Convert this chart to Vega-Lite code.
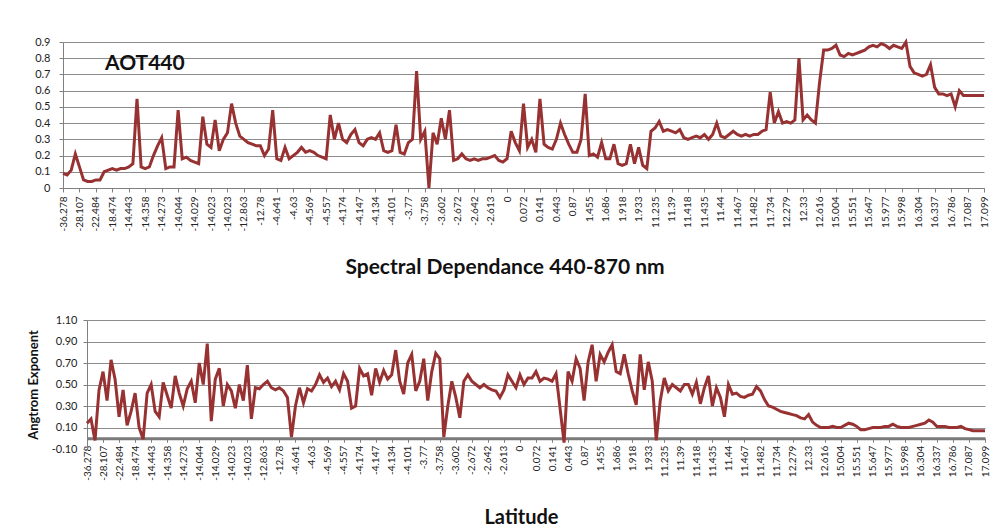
{
  "$schema": "https://vega.github.io/schema/vega-lite/v6.json",
  "padding": {"left": 27, "top": 36, "right": 8, "bottom": 2},
  "autosize": {"type": "pad"},
  "background": "white",
  "config": {
    "font": "Lato",
    "view": {"stroke": null},
    "concat": {"spacing": 19},
    "axis": {
      "labelFont": "Lato",
      "labelFontSize": 10,
      "labelColor": "#222222",
      "labelOverlap": false,
      "labelFlush": false,
      "domainColor": "#808080",
      "tickColor": "#808080",
      "gridColor": "#8c8c8c",
      "gridWidth": 1,
      "tickSize": 4,
      "titleFont": "Lato",
      "titleColor": "#111111"
    }
  },
  "data": {"values": [
    {"i":0,"aot":0.09,"alpha":0.14},{"i":1,"aot":0.08,"alpha":0.18},{"i":2,"aot":0.11,"alpha":-0.02},{"i":3,"aot":0.21,"alpha":0.45},{"i":4,"aot":0.13,"alpha":0.62},
    {"i":5,"aot":0.05,"alpha":0.35},{"i":6,"aot":0.04,"alpha":0.73},{"i":7,"aot":0.04,"alpha":0.55},{"i":8,"aot":0.05,"alpha":0.2},{"i":9,"aot":0.05,"alpha":0.45},
    {"i":10,"aot":0.1,"alpha":0.12},{"i":11,"aot":0.11,"alpha":0.25},{"i":12,"aot":0.12,"alpha":0.42},{"i":13,"aot":0.11,"alpha":0.1},{"i":14,"aot":0.12,"alpha":-0.01},
    {"i":15,"aot":0.12,"alpha":0.42},{"i":16,"aot":0.13,"alpha":0.5},{"i":17,"aot":0.15,"alpha":0.25},{"i":18,"aot":0.55,"alpha":0.2},{"i":19,"aot":0.13,"alpha":0.52},
    {"i":20,"aot":0.12,"alpha":0.4},{"i":21,"aot":0.13,"alpha":0.28},{"i":22,"aot":0.2,"alpha":0.58},{"i":23,"aot":0.26,"alpha":0.42},{"i":24,"aot":0.31,"alpha":0.3},
    {"i":25,"aot":0.12,"alpha":0.46},{"i":26,"aot":0.13,"alpha":0.53},{"i":27,"aot":0.13,"alpha":0.33},{"i":28,"aot":0.48,"alpha":0.7},{"i":29,"aot":0.18,"alpha":0.5},
    {"i":30,"aot":0.19,"alpha":0.88},{"i":31,"aot":0.17,"alpha":0.16},{"i":32,"aot":0.16,"alpha":0.55},{"i":33,"aot":0.15,"alpha":0.65},{"i":34,"aot":0.44,"alpha":0.3},
    {"i":35,"aot":0.27,"alpha":0.5},{"i":36,"aot":0.25,"alpha":0.44},{"i":37,"aot":0.42,"alpha":0.28},{"i":38,"aot":0.23,"alpha":0.5},{"i":39,"aot":0.3,"alpha":0.35},
    {"i":40,"aot":0.34,"alpha":0.68},{"i":41,"aot":0.52,"alpha":0.18},{"i":42,"aot":0.4,"alpha":0.47},{"i":43,"aot":0.32,"alpha":0.46},{"i":44,"aot":0.3,"alpha":0.5},
    {"i":45,"aot":0.28,"alpha":0.53},{"i":46,"aot":0.27,"alpha":0.47},{"i":47,"aot":0.26,"alpha":0.45},{"i":48,"aot":0.26,"alpha":0.47},{"i":49,"aot":0.2,"alpha":0.44},
    {"i":50,"aot":0.24,"alpha":0.38},{"i":51,"aot":0.48,"alpha":0.01},{"i":52,"aot":0.18,"alpha":0.3},{"i":53,"aot":0.17,"alpha":0.47},{"i":54,"aot":0.25,"alpha":0.33},
    {"i":55,"aot":0.18,"alpha":0.46},{"i":56,"aot":0.2,"alpha":0.44},{"i":57,"aot":0.22,"alpha":0.5},{"i":58,"aot":0.25,"alpha":0.59},{"i":59,"aot":0.22,"alpha":0.52},
    {"i":60,"aot":0.23,"alpha":0.56},{"i":61,"aot":0.22,"alpha":0.48},{"i":62,"aot":0.2,"alpha":0.53},{"i":63,"aot":0.19,"alpha":0.45},{"i":64,"aot":0.18,"alpha":0.6},
    {"i":65,"aot":0.45,"alpha":0.53},{"i":66,"aot":0.3,"alpha":0.28},{"i":67,"aot":0.4,"alpha":0.3},{"i":68,"aot":0.3,"alpha":0.65},{"i":69,"aot":0.28,"alpha":0.58},
    {"i":70,"aot":0.33,"alpha":0.6},{"i":71,"aot":0.36,"alpha":0.4},{"i":72,"aot":0.28,"alpha":0.65},{"i":73,"aot":0.26,"alpha":0.52},{"i":74,"aot":0.3,"alpha":0.63},
    {"i":75,"aot":0.31,"alpha":0.55},{"i":76,"aot":0.3,"alpha":0.59},{"i":77,"aot":0.34,"alpha":0.82},{"i":78,"aot":0.23,"alpha":0.53},{"i":79,"aot":0.22,"alpha":0.41},
    {"i":80,"aot":0.23,"alpha":0.7},{"i":81,"aot":0.39,"alpha":0.78},{"i":82,"aot":0.22,"alpha":0.44},{"i":83,"aot":0.21,"alpha":0.53},{"i":84,"aot":0.28,"alpha":0.74},
    {"i":85,"aot":0.3,"alpha":0.35},{"i":86,"aot":0.72,"alpha":0.62},{"i":87,"aot":0.3,"alpha":0.79},{"i":88,"aot":0.35,"alpha":0.74},{"i":89,"aot":0.0,"alpha":0.01},
    {"i":90,"aot":0.34,"alpha":0.3},{"i":91,"aot":0.27,"alpha":0.53},{"i":92,"aot":0.43,"alpha":0.38},{"i":93,"aot":0.3,"alpha":0.19},{"i":94,"aot":0.48,"alpha":0.53},
    {"i":95,"aot":0.17,"alpha":0.59},{"i":96,"aot":0.18,"alpha":0.53},{"i":97,"aot":0.21,"alpha":0.5},{"i":98,"aot":0.18,"alpha":0.47},{"i":99,"aot":0.17,"alpha":0.5},
    {"i":100,"aot":0.18,"alpha":0.47},{"i":101,"aot":0.17,"alpha":0.45},{"i":102,"aot":0.18,"alpha":0.44},{"i":103,"aot":0.18,"alpha":0.38},{"i":104,"aot":0.19,"alpha":0.45},
    {"i":105,"aot":0.2,"alpha":0.59},{"i":106,"aot":0.17,"alpha":0.53},{"i":107,"aot":0.16,"alpha":0.47},{"i":108,"aot":0.18,"alpha":0.59},{"i":109,"aot":0.35,"alpha":0.5},
    {"i":110,"aot":0.28,"alpha":0.56},{"i":111,"aot":0.23,"alpha":0.56},{"i":112,"aot":0.52,"alpha":0.62},{"i":113,"aot":0.25,"alpha":0.53},{"i":114,"aot":0.3,"alpha":0.56},
    {"i":115,"aot":0.22,"alpha":0.55},{"i":116,"aot":0.55,"alpha":0.53},{"i":117,"aot":0.27,"alpha":0.6},{"i":118,"aot":0.25,"alpha":0.28},{"i":119,"aot":0.24,"alpha":-0.04},
    {"i":120,"aot":0.3,"alpha":0.62},{"i":121,"aot":0.4,"alpha":0.53},{"i":122,"aot":0.33,"alpha":0.74},{"i":123,"aot":0.27,"alpha":0.65},{"i":124,"aot":0.22,"alpha":0.35},
    {"i":125,"aot":0.22,"alpha":0.71},{"i":126,"aot":0.3,"alpha":0.87},{"i":127,"aot":0.58,"alpha":0.53},{"i":128,"aot":0.2,"alpha":0.78},{"i":129,"aot":0.21,"alpha":0.71},
    {"i":130,"aot":0.19,"alpha":0.8},{"i":131,"aot":0.28,"alpha":0.87},{"i":132,"aot":0.18,"alpha":0.62},{"i":133,"aot":0.18,"alpha":0.6},{"i":134,"aot":0.27,"alpha":0.78},
    {"i":135,"aot":0.15,"alpha":0.6},{"i":136,"aot":0.14,"alpha":0.44},{"i":137,"aot":0.15,"alpha":0.31},{"i":138,"aot":0.27,"alpha":0.78},{"i":139,"aot":0.15,"alpha":0.45},
    {"i":140,"aot":0.25,"alpha":0.71},{"i":141,"aot":0.14,"alpha":0.53},{"i":142,"aot":0.12,"alpha":-0.02},{"i":143,"aot":0.35,"alpha":0.35},{"i":144,"aot":0.37,"alpha":0.56},
    {"i":145,"aot":0.41,"alpha":0.44},{"i":146,"aot":0.35,"alpha":0.5},{"i":147,"aot":0.36,"alpha":0.47},{"i":148,"aot":0.35,"alpha":0.44},{"i":149,"aot":0.34,"alpha":0.5},
    {"i":150,"aot":0.36,"alpha":0.5},{"i":151,"aot":0.31,"alpha":0.41},{"i":152,"aot":0.3,"alpha":0.52},{"i":153,"aot":0.31,"alpha":0.32},{"i":154,"aot":0.32,"alpha":0.47},
    {"i":155,"aot":0.31,"alpha":0.58},{"i":156,"aot":0.33,"alpha":0.3},{"i":157,"aot":0.3,"alpha":0.47},{"i":158,"aot":0.33,"alpha":0.38},{"i":159,"aot":0.4,"alpha":0.2},
    {"i":160,"aot":0.32,"alpha":0.5},{"i":161,"aot":0.31,"alpha":0.41},{"i":162,"aot":0.33,"alpha":0.42},{"i":163,"aot":0.35,"alpha":0.39},{"i":164,"aot":0.33,"alpha":0.38},
    {"i":165,"aot":0.32,"alpha":0.4},{"i":166,"aot":0.33,"alpha":0.41},{"i":167,"aot":0.32,"alpha":0.48},{"i":168,"aot":0.33,"alpha":0.44},{"i":169,"aot":0.33,"alpha":0.36},
    {"i":170,"aot":0.35,"alpha":0.3},{"i":171,"aot":0.36,"alpha":0.29},{"i":172,"aot":0.59,"alpha":0.27},{"i":173,"aot":0.4,"alpha":0.25},{"i":174,"aot":0.47,"alpha":0.24},
    {"i":175,"aot":0.4,"alpha":0.23},{"i":176,"aot":0.41,"alpha":0.22},{"i":177,"aot":0.4,"alpha":0.21},{"i":178,"aot":0.42,"alpha":0.19},{"i":179,"aot":0.8,"alpha":0.18},
    {"i":180,"aot":0.42,"alpha":0.22},{"i":181,"aot":0.45,"alpha":0.15},{"i":182,"aot":0.42,"alpha":0.12},{"i":183,"aot":0.4,"alpha":0.1},{"i":184,"aot":0.65,"alpha":0.1},
    {"i":185,"aot":0.85,"alpha":0.1},{"i":186,"aot":0.85,"alpha":0.11},{"i":187,"aot":0.86,"alpha":0.1},{"i":188,"aot":0.88,"alpha":0.1},{"i":189,"aot":0.82,"alpha":0.12},
    {"i":190,"aot":0.81,"alpha":0.14},{"i":191,"aot":0.83,"alpha":0.13},{"i":192,"aot":0.82,"alpha":0.11},{"i":193,"aot":0.83,"alpha":0.08},{"i":194,"aot":0.84,"alpha":0.08},
    {"i":195,"aot":0.85,"alpha":0.09},{"i":196,"aot":0.87,"alpha":0.1},{"i":197,"aot":0.88,"alpha":0.1},{"i":198,"aot":0.87,"alpha":0.1},{"i":199,"aot":0.89,"alpha":0.11},
    {"i":200,"aot":0.88,"alpha":0.11},{"i":201,"aot":0.86,"alpha":0.13},{"i":202,"aot":0.88,"alpha":0.11},{"i":203,"aot":0.87,"alpha":0.1},{"i":204,"aot":0.86,"alpha":0.1},
    {"i":205,"aot":0.9,"alpha":0.1},{"i":206,"aot":0.75,"alpha":0.11},{"i":207,"aot":0.71,"alpha":0.12},{"i":208,"aot":0.7,"alpha":0.13},{"i":209,"aot":0.69,"alpha":0.14},
    {"i":210,"aot":0.7,"alpha":0.17},{"i":211,"aot":0.76,"alpha":0.15},{"i":212,"aot":0.62,"alpha":0.11},{"i":213,"aot":0.58,"alpha":0.11},{"i":214,"aot":0.58,"alpha":0.11},
    {"i":215,"aot":0.57,"alpha":0.1},{"i":216,"aot":0.58,"alpha":0.1},{"i":217,"aot":0.5,"alpha":0.1},{"i":218,"aot":0.6,"alpha":0.11},{"i":219,"aot":0.57,"alpha":0.09},
    {"i":220,"aot":0.57,"alpha":0.08},{"i":221,"aot":0.57,"alpha":0.07},{"i":222,"aot":0.57,"alpha":0.07},{"i":223,"aot":0.57,"alpha":0.07},{"i":224,"aot":0.57,"alpha":0.07}
  ]},
  "columns": 1,
  "concat": [
    {
      "width": 897,
      "height": 146,
      "title": {"text": "AOT440", "anchor": "start", "frame": "group", "offset": -38, "dx": 18, "fontSize": 21, "fontWeight": "bold", "color": "#111111", "font": "Lato"},
      "mark": {"type": "line", "color": "#983232", "strokeWidth": 3},
      "encoding": {
        "x": {
          "field": "i", "type": "quantitative",
          "scale": {"domain": [0, 224], "range": [-24, 897], "nice": false, "zero": false},
          "axis": {
            "title": null, "grid": false, "labelAngle": -90, "labelPadding": 4,
            "minExtent": 50, "maxExtent": 50,
            "values": [0,4,8,12,16,20,24,28,32,36,40,44,48,52,56,60,64,68,72,76,80,84,88,92,96,100,104,108,112,116,120,124,128,132,136,140,144,148,152,156,160,164,168,172,176,180,184,188,192,196,200,204,208,212,216,220,224],
            "labelExpr": "['-36.278','-28.107','-22.484','-18.474','-14.443','-14.358','-14.273','-14.044','-14.029','-14.023','-14.023','-12.863','-12.78','-4.641','-4.63','-4.569','-4.557','-4.174','-4.147','-4.134','-4.101','-3.77','-3.758','-3.602','-2.672','-2.642','-2.613','0','0.072','0.141','0.443','0.87','1.455','1.686','1.918','1.933','11.235','11.39','11.418','11.435','11.44','11.467','11.482','11.734','12.279','12.33','12.616','15.004','15.551','15.647','15.977','15.998','16.304','16.337','16.786','17.087','17.099'][round(datum.value / 4)]"
          }
        },
        "y": {
          "field": "aot", "type": "quantitative",
          "scale": {"domain": [0, 0.9], "nice": false},
          "axis": {
            "title": null, "values": [0,0.1,0.2,0.3,0.4,0.5,0.6,0.7,0.8,0.9], "format": "~g",
            "offset": 24, "labelFontSize": 11, "labelPadding": 9, "minExtent": 36, "maxExtent": 36
          }
        }
      }
    },
    {
      "width": 898,
      "height": 129,
      "title": {"text": "Spectral Dependance 440-870 nm", "frame": "group", "offset": 36, "dx": -31, "fontSize": 21, "fontWeight": "bold", "color": "#111111", "font": "Lato"},
      "mark": {"type": "line", "color": "#983232", "strokeWidth": 3},
      "encoding": {
        "x": {
          "field": "i", "type": "quantitative",
          "scale": {"domain": [0, 224], "nice": false, "zero": false},
          "axis": {
            "title": "Latitude", "titleFontSize": 20, "titleFontWeight": "bold", "titlePadding": 24, "titleX": 434,
            "grid": false, "labelAngle": -90, "labelPadding": 3, "offset": -10.75,
            "domainWidth": 3, "domainColor": "#7a7a7a",
            "minExtent": 45, "maxExtent": 45,
            "values": [0,4,8,12,16,20,24,28,32,36,40,44,48,52,56,60,64,68,72,76,80,84,88,92,96,100,104,108,112,116,120,124,128,132,136,140,144,148,152,156,160,164,168,172,176,180,184,188,192,196,200,204,208,212,216,220,224],
            "labelExpr": "['-36.278','-28.107','-22.484','-18.474','-14.443','-14.358','-14.273','-14.044','-14.029','-14.023','-14.023','-12.863','-12.78','-4.641','-4.63','-4.569','-4.557','-4.174','-4.147','-4.134','-4.101','-3.77','-3.758','-3.602','-2.672','-2.642','-2.613','0','0.072','0.141','0.443','0.87','1.455','1.686','1.918','1.933','11.235','11.39','11.418','11.435','11.44','11.467','11.482','11.734','12.279','12.33','12.616','15.004','15.551','15.647','15.977','15.998','16.304','16.337','16.786','17.087','17.099'][round(datum.value / 4)]"
          }
        },
        "y": {
          "field": "alpha", "type": "quantitative",
          "scale": {"domain": [-0.1, 1.1], "nice": false, "zero": false},
          "axis": {
            "title": "Angtrom Exponent", "titleFontSize": 13, "titleFontWeight": "bold", "titlePadding": 17,
            "values": [-0.1,0.1,0.3,0.5,0.7,0.9,1.1],
            "labelExpr": "replace(format(datum.value, '.2f'), '\u2212', '-')",
            "labelFontSize": 11, "labelPadding": 6, "minExtent": 30, "maxExtent": 30,
            "gridColor": {"condition": {"test": "datum.value < 0", "value": "transparent"}, "value": "#8c8c8c"}
          }
        }
      }
    }
  ]
}
